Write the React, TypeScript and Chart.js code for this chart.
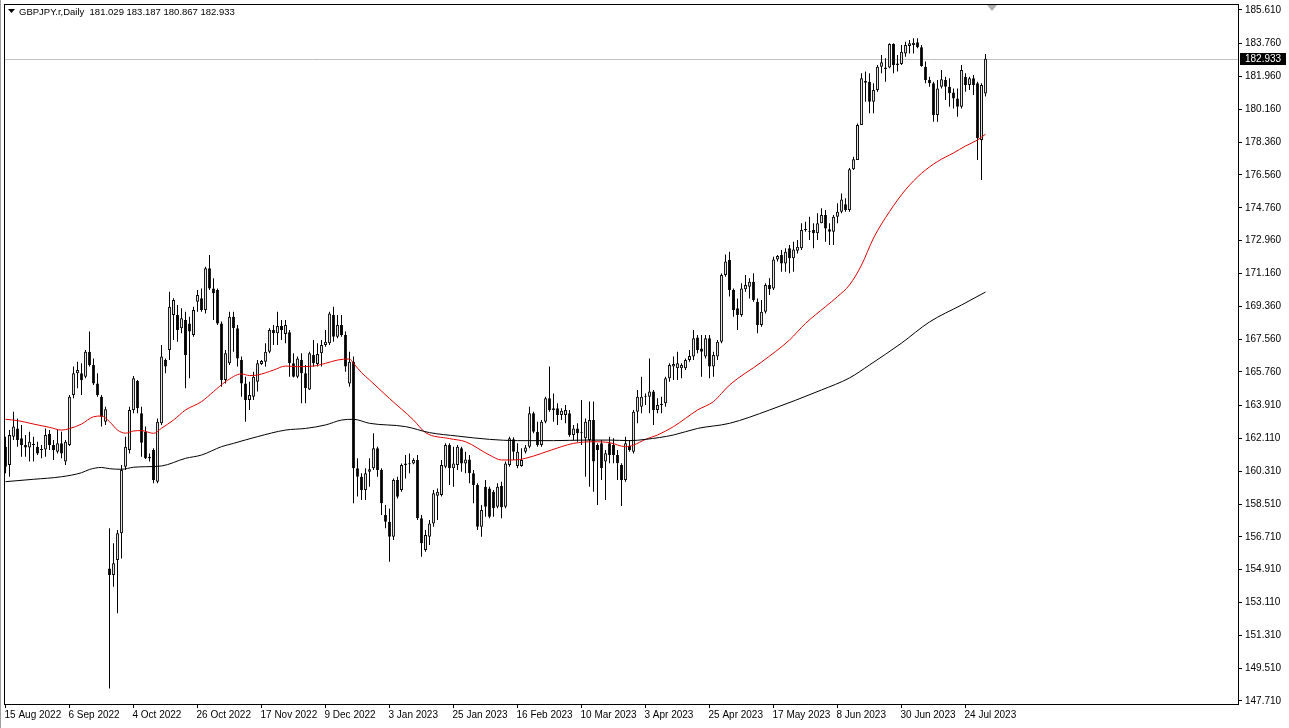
import React, { useEffect, useRef } from 'react';
import { Chart, registerables } from 'chart.js';

Chart.register(...registerables);

const symbolTitle = 'GBPJPY.r,Daily';
const lastBarText = '181.029 183.187 180.867 182.933';
const bidPrice = 182.933;

const dateLabels = ['15 Aug 2022', '6 Sep 2022', '4 Oct 2022', '26 Oct 2022', '17 Nov 2022', '9 Dec 2022', '3 Jan 2023', '25 Jan 2023', '16 Feb 2023', '10 Mar 2023', '3 Apr 2023', '25 Apr 2023', '17 May 2023', '8 Jun 2023', '30 Jun 2023', '24 Jul 2023'];
const dateLabelBars = [0, 16, 32, 48, 64, 80, 96, 112, 128, 144, 160, 176, 192, 208, 224, 240];

const priceTicks = [185.61, 183.76, 181.96, 180.16, 178.36, 176.56, 174.76, 172.96, 171.16, 169.36, 167.56, 165.76, 163.91, 162.11, 160.31, 158.51, 156.71, 154.91, 153.11, 151.31, 149.51, 147.71];

const opens = [161.66,160.65,162.21,162.66,162.12,161.75,161.62,161.75,161.66,161.48,161.51,162.35,161.75,161.38,161.84,160.84,161.75,164.49,165.68,165.68,165.50,166.87,166.14,165.13,164.40,163.03,154.98,154.62,155.44,156.91,160.56,161.48,163.67,165.26,163.49,162.48,161.02,161.48,159.74,162.94,166.41,166.96,168.88,168.88,168.15,168.61,168.42,167.78,169.61,169.80,169.16,171.44,170.34,170.25,168.42,165.32,166.23,168.79,168.15,166.41,165.13,164.22,164.40,165.22,166.19,166.32,166.87,168.06,167.88,168.28,167.84,167.93,166.23,165.50,166.41,165.68,164.80,166.69,166.19,166.78,167.23,167.33,168.88,167.69,168.33,167.78,165.13,166.32,160.47,160.01,159.28,160.29,160.47,161.57,160.38,157.91,157.54,156.72,159.83,159.28,160.65,160.74,160.74,160.93,157.73,155.99,156.72,157.45,158.97,159.01,160.56,161.75,160.47,160.65,161.57,160.74,160.96,160.20,159.55,157.27,159.46,159.37,159.19,158.37,159.50,158.37,160.65,162.06,160.60,160.60,161.38,161.66,163.49,162.48,161.75,163.03,164.31,163.67,163.76,163.40,163.40,163.49,162.30,162.66,162.39,162.12,162.02,163.12,161.75,161.84,160.84,161.84,161.75,161.20,160.65,159.83,161.70,161.38,163.58,163.85,164.40,164.40,164.68,163.67,163.94,164.04,165.41,166.05,165.96,165.96,165.96,166.41,166.60,167.65,167.05,166.60,167.60,166.05,166.60,167.42,171.07,171.90,170.25,169.25,168.88,170.29,170.43,170.71,169.61,168.33,169.06,170.53,170.34,171.93,172.17,171.71,172.54,171.99,172.41,172.54,173.54,173.50,173.54,173.36,173.91,174.37,173.58,173.45,174.27,174.55,174.95,174.64,176.87,177.38,179.30,181.72,181.68,180.58,181.22,182.50,182.36,182.46,183.75,182.59,182.65,183.23,183.64,183.69,183.84,183.56,182.50,181.77,181.59,179.85,181.40,181.77,181.40,181.08,180.76,180.31,181.95,181.50,181.86,181.59,178.48,181.03];
const highs = [162.21,162.57,163.58,163.21,162.85,162.30,162.48,162.21,161.93,161.75,162.66,162.57,162.02,162.57,162.48,162.02,164.49,166.05,166.32,166.23,166.96,167.97,166.50,165.68,164.49,163.85,157.18,156.36,157.09,160.65,162.21,163.85,165.53,165.32,163.85,162.76,161.29,161.57,163.21,167.24,166.50,170.16,169.80,169.43,169.25,169.06,168.79,169.34,170.25,170.34,171.53,172.17,170.89,170.34,168.52,166.96,169.06,169.06,168.33,166.60,165.50,165.22,165.77,166.41,166.41,167.33,168.15,168.33,169.06,168.61,168.61,168.06,166.78,166.60,166.78,166.14,166.87,167.51,167.33,167.51,168.06,169.06,169.34,168.88,168.88,167.97,166.87,166.60,161.02,160.20,160.47,161.02,162.39,161.66,160.47,158.46,158.27,159.92,160.01,160.74,161.20,161.29,161.02,161.20,157.91,157.09,157.64,159.28,159.37,160.93,161.84,161.84,161.66,161.75,161.66,161.38,161.20,160.38,159.65,158.46,159.83,159.46,159.28,159.65,159.74,160.84,162.21,162.17,161.84,161.57,161.75,163.85,163.58,163.03,163.12,164.40,166.05,164.58,164.04,163.76,163.94,163.67,162.85,162.94,164.22,163.21,164.13,164.13,161.84,162.02,161.48,162.21,162.12,161.48,160.75,162.21,162.02,163.67,164.77,165.50,164.58,166.50,164.77,164.31,164.40,165.50,166.23,166.60,166.87,166.23,166.50,166.96,168.06,167.78,167.78,167.78,167.78,166.87,167.51,171.16,172.20,172.35,170.34,169.79,170.62,171.07,170.89,171.17,169.79,169.70,170.62,170.89,172.08,172.17,172.45,172.54,172.72,172.90,172.99,173.91,174.00,174.27,173.91,174.46,174.73,174.64,173.91,174.37,175.01,175.55,175.28,176.95,177.56,179.39,182.14,182.23,182.14,181.59,182.59,183.14,182.96,183.78,183.78,183.14,183.69,183.87,183.96,184.06,184.06,183.69,182.78,181.95,181.68,181.77,182.32,181.95,181.86,181.31,181.31,182.59,182.14,181.95,182.04,181.68,181.59,183.19];
const lows = [160.20,160.01,162.02,161.66,161.11,161.11,160.84,160.84,161.20,161.02,161.11,161.48,160.93,161.29,161.02,160.65,161.70,164.31,164.86,164.49,165.41,166.05,165.04,164.40,162.76,162.85,148.40,153.98,152.52,155.53,160.38,161.29,163.49,163.49,161.11,160.98,160.84,159.65,159.65,162.85,165.68,166.41,167.51,167.42,167.88,164.86,165.41,167.69,169.06,169.06,168.97,170.25,168.61,168.33,164.95,165.13,166.14,166.87,166.05,164.40,163.03,163.67,164.22,164.68,166.14,166.05,166.78,167.23,167.23,167.51,167.33,165.50,165.45,165.41,164.04,164.04,164.77,166.05,166.05,166.05,167.14,167.23,167.42,167.60,167.69,165.77,164.95,158.55,158.92,158.73,158.73,159.46,160.38,160.01,157.91,157.18,155.35,156.54,158.82,159.19,159.92,160.20,160.70,157.64,155.62,155.90,156.27,157.27,157.64,158.92,160.47,159.55,159.46,160.38,160.29,160.20,159.65,158.55,157.09,156.72,157.82,157.73,157.82,158.28,157.73,158.28,160.56,160.93,160.47,160.56,161.29,161.57,162.39,161.66,161.66,162.94,163.58,163.03,162.85,163.12,162.94,162.21,162.02,161.93,161.75,160.01,159.46,159.19,158.46,159.83,158.73,160.75,160.75,159.83,158.40,159.74,161.38,161.29,162.94,163.49,163.94,163.49,162.85,163.49,163.49,163.85,165.22,165.32,165.32,165.41,165.86,166.32,166.41,166.78,165.50,166.50,165.41,165.50,166.41,167.33,170.98,169.89,168.79,168.06,168.79,170.16,169.79,169.61,167.88,168.24,168.97,169.98,170.25,171.81,171.26,171.26,171.17,171.26,172.26,172.45,173.45,172.99,172.54,172.99,173.91,172.90,172.72,172.72,173.91,174.46,174.55,174.55,176.83,177.38,179.30,180.58,179.94,179.94,181.13,182.14,181.68,182.41,182.14,182.23,182.59,183.05,183.23,183.23,183.51,182.50,181.59,181.40,179.48,179.48,181.31,180.67,180.31,180.21,179.76,180.21,181.13,181.22,180.95,177.38,176.29,180.87];
const closes = [160.56,162.30,162.76,162.02,161.75,161.62,161.93,161.78,161.29,161.50,162.30,161.75,161.48,161.84,161.29,161.93,164.40,165.68,165.86,165.32,166.87,166.14,165.13,164.49,163.30,163.71,154.62,155.26,156.91,160.38,161.66,163.67,165.41,163.76,161.88,161.02,161.11,159.83,163.03,166.60,166.05,169.34,169.70,168.06,168.70,166.69,167.97,169.16,169.98,169.16,171.44,170.34,170.07,168.42,165.32,166.78,168.79,168.15,166.50,165.13,164.22,164.49,165.50,166.23,166.36,166.87,168.06,167.88,168.28,168.06,168.33,166.23,165.50,166.50,165.68,164.86,166.78,166.23,166.74,167.23,167.42,168.97,167.69,168.33,167.78,166.05,166.32,160.47,160.01,159.28,160.20,160.42,161.57,160.38,158.55,157.54,156.72,159.83,158.91,160.65,160.74,160.70,160.93,157.73,156.36,156.81,157.45,159.10,159.19,160.65,161.75,160.47,160.74,161.66,160.74,160.96,160.20,159.55,157.27,158.18,158.37,157.82,158.28,159.46,158.33,160.74,162.12,161.38,161.38,160.93,161.62,163.49,162.48,161.75,163.03,164.31,163.67,163.76,163.40,163.63,163.67,162.30,162.66,162.39,162.42,163.03,163.12,160.84,161.48,160.47,161.30,161.20,161.20,160.75,159.83,161.84,161.48,163.58,164.40,164.40,164.42,164.68,163.67,163.94,163.96,165.41,166.14,166.19,166.23,166.14,166.41,166.63,167.60,166.96,166.87,167.60,166.05,166.69,167.42,171.07,171.81,170.25,169.16,168.88,170.34,170.53,170.71,169.70,168.33,169.06,170.53,170.29,171.93,172.12,171.71,172.35,171.99,172.48,172.63,173.54,173.56,173.45,173.36,173.91,174.37,173.63,173.45,174.27,174.55,175.22,174.64,176.87,177.42,179.30,181.86,181.62,180.58,181.22,182.50,182.74,182.46,183.75,182.59,182.68,183.32,183.69,183.78,183.82,183.56,182.54,181.77,181.59,179.85,181.31,181.81,181.40,181.04,180.76,180.31,182.32,181.50,181.86,181.50,178.57,181.49,182.93];

// Moving averages (bar index, value)
const maFastBars = [0,3,7,11,14,16,19,22,24,26,28,30,32,34,37,39,42,45,49,52,55,59,61,63,67,70,73,77,80,83,86,87,89,91,96,102,105,111,115,121,124,127,130,134,139,142,147,151,155,157,160,163,167,170,173,177,179,181,189,196,200,205,208,211,214,217,221,225,229,233,237,240,243,245];
const maFastValues = [163.16,163.09,162.90,162.72,162.57,162.65,162.90,163.30,163.34,163.03,162.57,162.40,162.52,162.54,162.39,162.67,163.12,163.67,164.13,164.68,165.22,165.65,165.56,165.59,165.86,166.08,166.05,166.08,166.23,166.41,166.47,166.23,165.72,165.32,164.30,163.12,162.43,162.10,161.93,161.20,160.93,160.93,161.02,161.29,161.66,161.84,161.93,161.88,161.66,161.75,162.06,162.30,162.76,163.21,163.67,164.13,164.58,165.04,166.30,167.51,168.42,169.34,169.89,170.53,171.62,173.10,174.55,175.75,176.65,177.30,177.77,178.15,178.48,178.80];
const maSlowBars = [0,7,14,19,21,24,26,29,32,35,39,45,49,54,57,60,63,70,75,80,84,87,91,100,106,113,121,128,137,145,151,156,160,167,173,181,191,204,211,216,224,231,239,245];
const maSlowValues = [159.74,159.87,160.01,160.23,160.41,160.52,160.45,160.42,160.53,160.56,160.60,161.02,161.20,161.66,161.84,162.03,162.21,162.57,162.66,162.85,163.12,163.16,162.94,162.76,162.43,162.24,162.06,161.99,161.99,162.02,162.02,161.99,162.06,162.30,162.66,162.94,163.67,164.77,165.43,166.14,167.34,168.50,169.43,170.14];

const FONT = "'Liberation Sans', Arial, sans-serif";

export default function App() {
  const ref = useRef<HTMLCanvasElement>(null);

  useEffect(() => {
    document.body.style.margin = '0';
    const canvas = ref.current;
    if (!canvas) return;

    const wickData = opens.map((_, i) => ({ x: i, y: [lows[i], highs[i]] }));
    const bodyData = opens.map((o, i) => ({ x: i, y: [Math.min(o, closes[i]), Math.max(o, closes[i])] }));
    const bodyColors = opens.map((o, i) => (closes[i] >= o ? '#ffffff' : '#000000'));
    const fastData = maFastBars.map((b, i) => ({ x: b, y: maFastValues[i] }));
    const slowData = maSlowBars.map((b, i) => ({ x: b, y: maSlowValues[i] }));

    const overlay = {
      id: 'mtOverlay',
      beforeDatasetsDraw(chart: any) {
        const { ctx, chartArea, scales } = chart;
        const py = Math.round(scales.y.getPixelForValue(bidPrice)) + 0.5;
        ctx.save();
        ctx.strokeStyle = '#c0c0c0';
        ctx.lineWidth = 1;
        ctx.beginPath();
        ctx.moveTo(chartArea.left, py);
        ctx.lineTo(chartArea.right, py);
        ctx.stroke();
        ctx.restore();
      },
      afterDraw(chart: any) {
        const { ctx, chartArea, scales } = chart;
        const { left, top, right, bottom } = chartArea;
        ctx.save();
        ctx.strokeStyle = '#000000';
        ctx.lineWidth = 1;
        ctx.strokeRect(left + 0.5, top + 0.5, right - left, bottom - top);
        ctx.strokeStyle = '#a0a0a0';
        ctx.beginPath();
        ctx.moveTo(0.5, 0);
        ctx.lineTo(0.5, 728);
        ctx.stroke();
        const py = Math.round(scales.y.getPixelForValue(bidPrice));
        ctx.fillStyle = '#000000';
        ctx.fillRect(right + 2, py - 6, 46, 12);
        ctx.fillStyle = '#ffffff';
        ctx.font = `10px ${FONT}`;
        ctx.textBaseline = 'middle';
        ctx.textAlign = 'left';
        ctx.fillText(bidPrice.toFixed(3), right + 7, py + 0.5);
        ctx.fillStyle = '#000000';
        ctx.beginPath();
        ctx.moveTo(8, 9);
        ctx.lineTo(15, 9);
        ctx.lineTo(11.5, 13);
        ctx.closePath();
        ctx.fill();
        ctx.font = `9.5px ${FONT}`;
        ctx.fillText(symbolTitle + '  ' + lastBarText, 19, 12);
        ctx.fillStyle = '#b0b0b0';
        ctx.beginPath();
        ctx.moveTo(987, top + 1);
        ctx.lineTo(997, top + 1);
        ctx.lineTo(992, top + 7);
        ctx.closePath();
        ctx.fill();
        ctx.restore();
      },
    };

    const chart = new Chart(canvas, {
      type: 'bar',
      data: {
        datasets: [
          {
            type: 'line',
            data: slowData,
            borderColor: '#000000',
            borderWidth: 1,
            pointRadius: 0,
            cubicInterpolationMode: 'monotone',
            order: 0,
          },
          {
            type: 'line',
            data: fastData,
            borderColor: '#e00000',
            borderWidth: 1,
            pointRadius: 0,
            cubicInterpolationMode: 'monotone',
            order: 0,
          },
          {
            type: 'bar',
            data: bodyData,
            backgroundColor: bodyColors,
            borderColor: '#000000',
            borderWidth: 1,
            borderSkipped: false,
            inflateAmount: 0,
            minBarLength: 1,
            grouped: false,
            maxBarThickness: 3,
            order: 1,
          },
          {
            type: 'bar',
            data: wickData,
            backgroundColor: '#000000',
            borderWidth: 0,
            inflateAmount: 0,
            grouped: false,
            maxBarThickness: 1,
            order: 2,
          },
        ] as any,
      },
      options: {
        animation: false,
        responsive: false,
        devicePixelRatio: 1,
        layout: { padding: { left: 4, top: 4, right: 0, bottom: 0 } },
        plugins: { legend: { display: false }, tooltip: { enabled: false } },
        scales: {
          x: {
            type: 'linear',
            position: 'bottom',
            offset: false,
            min: -0.375,
            max: 308.125,
            afterBuildTicks: (scale: any) => {
              scale.ticks = dateLabelBars.map((v) => ({ value: v }));
            },
            afterFit: (scale: any) => {
              scale.height = 24;
              scale.paddingLeft = 0;
              scale.paddingRight = 0;
            },
            grid: { offset: false, drawOnChartArea: false, drawTicks: true, tickLength: 4, color: '#000000' },
            border: { display: true, color: '#000000' },
            ticks: {
              autoSkip: false,
              maxRotation: 0,
              align: 'start',
              padding: 1,
              labelOffset: -1,
              color: '#000000',
              font: { family: FONT, size: 10 },
              callback: (value: any) => {
                const k = dateLabelBars.indexOf(Math.round(Number(value)));
                return k >= 0 ? dateLabels[k] : '';
              },
            },
          },
          y: {
            type: 'linear',
            position: 'right',
            min: 147.545,
            max: 185.939,
            afterBuildTicks: (scale: any) => {
              scale.ticks = priceTicks.map((v) => ({ value: v }));
            },
            afterFit: (scale: any) => {
              scale.width = 51;
              scale.paddingTop = 0;
              scale.paddingBottom = 0;
            },
            grid: { drawOnChartArea: false, drawTicks: true, tickLength: 4, color: '#000000' },
            border: { display: true, color: '#000000' },
            ticks: {
              padding: 3,
              color: '#000000',
              font: { family: FONT, size: 10 },
              callback: (value: any) => Number(value).toFixed(3),
            },
          },
        },
      } as any,
      plugins: [overlay],
    });

    return () => chart.destroy();
  }, []);

  return <canvas ref={ref} width={1289} height={728} style={{ display: 'block' }} />;
}
